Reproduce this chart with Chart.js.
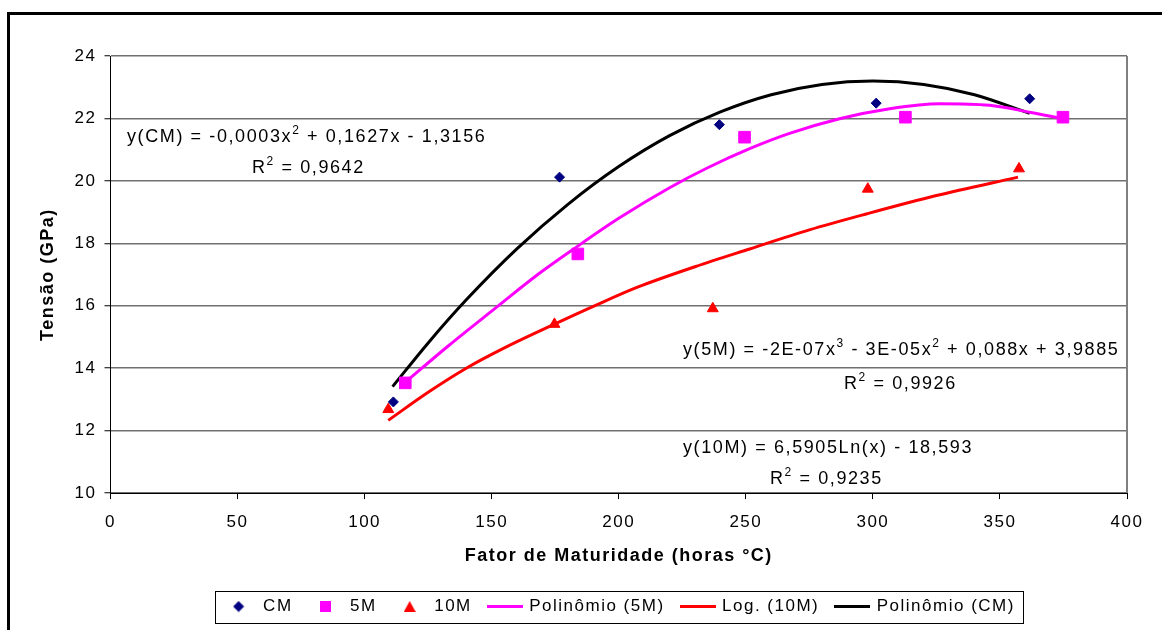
<!DOCTYPE html>
<html>
<head>
<meta charset="utf-8">
<script src="https://cdn.jsdelivr.net/npm/chart.js@4.4.1/dist/chart.umd.min.js"></script>
<style>
  html, body { margin: 0; padding: 0; background: #fff; }
  #wrap { position: relative; width: 1162px; height: 630px; overflow: hidden; }
  #frame { position: absolute; left: 7px; top: 12px; width: 1200px; height: 700px;
           border-left: 3px solid #000; border-top: 3px solid #000; pointer-events: none; }
</style>
</head>
<body>
<div id="wrap">
  <canvas id="chart" width="1162" height="630"></canvas>
  <div id="frame"></div>
</div>
<script>
// Measured points
const cmX = [111.3, 176.7, 239.6, 301.3, 361.7];
const cmY = [12.92, 20.12, 21.80, 22.49, 22.63];
const m5X = [116.0, 183.9, 249.5, 312.8, 374.8];
const m5Y = [13.53, 17.66, 21.40, 22.04, 22.04];
const m10X = [109.3, 174.7, 237.0, 298.0, 357.5];
const m10Y = [12.68, 15.41, 15.91, 19.74, 20.39];

// Trendlines
const polyCmX = [111, 125, 140, 160, 180, 200, 220, 240, 260, 280, 300, 320, 340, 361.7];
const polyCmY = [13.41, 14.81, 16.19, 17.83, 19.25, 20.46, 21.45, 22.21, 22.76, 23.09, 23.2, 23.09, 22.76, 22.16];
const poly5mX = [115, 133, 151.7, 167, 183.2, 200, 220, 235, 251.5, 267.2, 286.9, 306.6, 326.3, 345.9, 361.7, 374.8];
const poly5mY = [13.48, 14.72, 15.94, 16.93, 17.87, 18.8, 19.78, 20.42, 21.03, 21.52, 21.99, 22.31, 22.47, 22.42, 22.2, 21.99];
const log10mX = [109.3, 125, 140, 155, 174.7, 190, 206.9, 230, 251.5, 275, 297.4, 325, 357.1];
const log10mY = [12.33, 13.23, 14.0, 14.65, 15.41, 15.98, 16.58, 17.25, 17.82, 18.43, 18.94, 19.53, 20.12];

const seriesNames = ['CM', '5M', '10M', 'Polinômio (5M)', 'Log. (10M)', 'Polinômio (CM)'];
const xTitle = 'Fator de Maturidade (horas °C)';
const yTitle = 'Tensão (GPa)';

// equation labels: [text, superscript?]
const eqCM = [['y(CM) = -0,0003x'], ['2', true], [' + 0,1627x - 1,3156']];
const r2CM = [['R'], ['2', true], [' = 0,9642']];
const eq5M = [['y(5M) = -2E-07x'], ['3', true], [' - 3E-05x'], ['2', true], [' + 0,088x + 3,9885']];
const r25M = [['R'], ['2', true], [' = 0,9926']];
const eq10M = [['y(10M) = 6,5905Ln(x) - 18,593']];
const r210M = [['R'], ['2', true], [' = 0,9235']];

const FONT = '"Liberation Sans", Arial, sans-serif';

function pts(xs, ys) {
    return xs.map((x, i) => ({ x: x, y: ys[i] }));
}

// small pictures for the legend keys
function keyCanvas(w, h, draw) {
    const c = document.createElement('canvas');
    c.width = w; c.height = h;
    draw(c.getContext('2d'));
    return c;
}
const legendKeys = [
    keyCanvas(12, 12, g => { g.fillStyle = '#000080'; g.beginPath(); g.moveTo(6, 0.5); g.lineTo(11.5, 6); g.lineTo(6, 11.5); g.lineTo(0.5, 6); g.fill(); }),
    keyCanvas(11, 11, g => { g.fillStyle = '#ff00ff'; g.fillRect(0, 0, 11, 11); }),
    keyCanvas(12, 11, g => { g.fillStyle = '#ff0000'; g.beginPath(); g.moveTo(6, 0); g.lineTo(12, 11); g.lineTo(0, 11); g.fill(); }),
    keyCanvas(36, 3, g => { g.fillStyle = '#ff00ff'; g.fillRect(0, 0, 36, 3); }),
    keyCanvas(36, 3, g => { g.fillStyle = '#ff0000'; g.fillRect(0, 0, 36, 3); }),
    keyCanvas(36, 3, g => { g.fillStyle = '#000000'; g.fillRect(0, 0, 36, 3); })
];

function drawRich(ctx, parts, x, y) {
    let cx = x;
    parts.forEach(p => {
        ctx.font = (p[1] ? '12px ' : '18px ') + FONT;
        ctx.fillText(p[0], cx, p[1] ? y - 8 : y);
        cx += ctx.measureText(p[0]).width;
    });
}

const extras = {
    id: 'extras',
    beforeUpdate(chart) { chart.ctx.letterSpacing = '1.5px'; },
    beforeDraw(chart) {
        const ctx = chart.ctx;
        ctx.letterSpacing = '1.5px';
        ctx.save();
        ctx.fillStyle = '#fff';
        ctx.fillRect(0, 0, chart.width, chart.height);
        ctx.restore();
    },
    beforeDatasetsDraw(chart) {
        const ctx = chart.ctx;
        const a = chart.chartArea;
        ctx.save();
        ctx.strokeStyle = '#808080';
        ctx.lineWidth = 2;
        ctx.beginPath();
        ctx.moveTo(a.right, a.top);
        ctx.lineTo(a.right, a.bottom);
        ctx.stroke();
        ctx.restore();
    },
    afterDraw(chart) {
        const ctx = chart.ctx;
        ctx.save();
        ctx.fillStyle = '#000';
        ctx.textBaseline = 'alphabetic';
        ctx.textAlign = 'left';
        ctx.letterSpacing = '1.6px';
        drawRich(ctx, eqCM, 127, 142);
        drawRich(ctx, r2CM, 252, 173);
        drawRich(ctx, eq5M, 683, 355);
        drawRich(ctx, r25M, 844, 389);
        drawRich(ctx, eq10M, 683, 453);
        drawRich(ctx, r210M, 770, 484);
        ctx.restore();

        // box round the legend
        const hb = chart.legend.legendHitBoxes;
        if (hb && hb.length) {
            const left = Math.min(...hb.map(h => h.left)) - 8;
            const right = Math.max(...hb.map(h => h.left + h.width)) + 8;
            const cy = hb[0].top + 8.5;
            ctx.save();
            ctx.strokeStyle = '#000';
            ctx.lineWidth = 1;
            ctx.strokeRect(Math.round(left) + 0.5, Math.round(cy - 16) + 0.5, Math.round(right - left), 32);
            ctx.restore();
        }
    }
};

Chart.defaults.font.family = FONT;
Chart.defaults.font.size = 17;
Chart.defaults.color = '#000';

new Chart(document.getElementById('chart'), {
    type: 'scatter',
    data: {
        datasets: [
            { label: seriesNames[0], data: pts(cmX, cmY), pointStyle: 'rectRot', pointRadius: 5, pointHoverRadius: 5,
              backgroundColor: '#000080', borderColor: '#000080', borderWidth: 1 },
            { label: seriesNames[1], data: pts(m5X, m5Y), pointStyle: 'rect', pointRadius: 8.2, pointHoverRadius: 8.2,
              backgroundColor: '#ff00ff', borderColor: '#ff00ff', borderWidth: 1 },
            { label: seriesNames[2], data: pts(m10X, m10Y), pointStyle: 'triangle', pointRadius: 6.3, pointHoverRadius: 6.3,
              backgroundColor: '#ff0000', borderColor: '#ff0000', borderWidth: 1 },
            { label: seriesNames[3], data: pts(poly5mX, poly5mY), showLine: true, pointRadius: 0,
              borderColor: '#ff00ff', backgroundColor: '#ff00ff', borderWidth: 3, cubicInterpolationMode: 'monotone' },
            { label: seriesNames[4], data: pts(log10mX, log10mY), showLine: true, pointRadius: 0,
              borderColor: '#ff0000', backgroundColor: '#ff0000', borderWidth: 3, cubicInterpolationMode: 'monotone' },
            { label: seriesNames[5], data: pts(polyCmX, polyCmY), showLine: true, pointRadius: 0,
              borderColor: '#000000', backgroundColor: '#000000', borderWidth: 3, cubicInterpolationMode: 'monotone' }
        ]
    },
    options: {
        responsive: false,
        animation: false,
        devicePixelRatio: 1,
        layout: { padding: { left: 30, right: 35, top: 56, bottom: 5 } },
        plugins: {
            tooltip: { enabled: false },
            legend: {
                position: 'bottom',
                fullSize: false,
                labels: {
                    usePointStyle: true,
                    pointStyleWidth: 32,
                    boxHeight: 17,
                    padding: 17,
                    font: { size: 17 },
                    color: '#000',
                    generateLabels(chart) {
                        const items = Chart.defaults.plugins.legend.labels.generateLabels(chart);
                        items.forEach((it, i) => { it.pointStyle = legendKeys[i]; });
                        return items;
                    }
                }
            }
        },
        scales: {
            x: {
                type: 'linear',
                min: 0, max: 400,
                ticks: { stepSize: 50, padding: 12.7, color: '#000', font: { size: 17 } },
                grid: { drawOnChartArea: false, drawTicks: true, tickLength: 6, tickColor: '#000', tickWidth: 1 },
                border: { color: '#000', width: 1 },
                title: { display: true, text: xTitle, color: '#000', font: { size: 18, weight: 'bold', lineHeight: 1 },
                         padding: { top: 2, bottom: 16.1 } }
            },
            y: {
                min: 10, max: 24,
                ticks: { stepSize: 2, padding: 8, color: '#000', font: { size: 17 } },
                grid: { color: '#707070', lineWidth: 1.5, tickLength: 6, tickColor: '#000', tickWidth: 1 },
                border: { color: '#000', width: 1 },
                title: { display: true, text: yTitle, color: '#000', font: { size: 18, weight: 'bold' },
                         padding: { top: 7, bottom: 8 } }
            }
        }
    },
    plugins: [extras]
});
</script>
</body>
</html>
